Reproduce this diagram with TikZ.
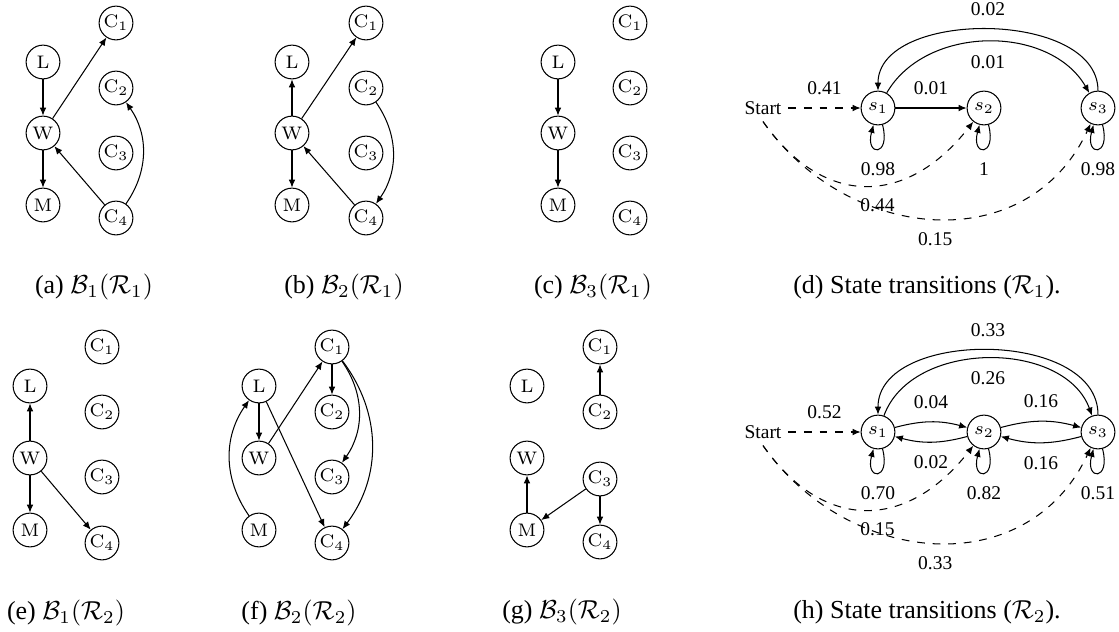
\documentclass[tikz,border=0pt]{standalone}
\usepackage[no-math]{fontspec}
\setmainfont{Liberation Serif}
\usetikzlibrary{arrows.meta}

\newcommand{\figfont}{\fontsize{7.5}{9}\selectfont}
\tikzset{
	var/.style={circle, draw, minimum size=13pt, inner sep=0pt, font=\figfont},
	lab/.style={font=\figfont, inner sep=5pt},
	start/.style={font=\figfont, inner sep=2.5pt}
}

\begin{document}
\begin{tikzpicture}[x=3.85pt, y=3.85pt, >={Latex[length=3.1pt,width=2.6pt]}]
			\useasboundingbox (0,0) rectangle (111.9,-63.1);

			% (a) first network of R1
			\node[var] (aL) at (4.3,-6.2) {$\mathrm{L}$};
			\node[var] (aW) at (4.3,-13.3) {$\mathrm{W}$};
			\node[var] (aM) at (4.3,-20.5) {$\mathrm{M}$};
			\node[var] (aC1) at (11.6,-2.3) {$\mathrm{C}_1$};
			\node[var] (aC2) at (11.6,-8.8) {$\mathrm{C}_2$};
			\node[var] (aC3) at (11.6,-15.3) {$\mathrm{C}_3$};
			\node[var] (aC4) at (11.6,-21.8) {$\mathrm{C}_4$};
			\draw[->] (aL) -- (aW);
			\draw[->] (aW) -- (aM);
			\draw[->] (aW) -- (aC1);
			\draw[->] (aC4) -- (aW);
			\draw[->] (aC4) to[bend right=35] (aC2);
			\node (capA) at (9.4,-28.7) {(a) $\mathcal{B}_1(\mathcal{R}_1)$};

			% (b) second network of R1
			\node[var] (bL) at (29.2,-6.2) {$\mathrm{L}$};
			\node[var] (bW) at (29.2,-13.3) {$\mathrm{W}$};
			\node[var] (bM) at (29.2,-20.5) {$\mathrm{M}$};
			\node[var] (bC1) at (36.6,-2.3) {$\mathrm{C}_1$};
			\node[var] (bC2) at (36.6,-8.8) {$\mathrm{C}_2$};
			\node[var] (bC3) at (36.6,-15.3) {$\mathrm{C}_3$};
			\node[var] (bC4) at (36.6,-21.8) {$\mathrm{C}_4$};
			\draw[->] (bW) -- (bL);
			\draw[->] (bW) -- (bM);
			\draw[->] (bW) -- (bC1);
			\draw[->] (bC4) -- (bW);
			\draw[->] (bC2) to[bend left=35] (bC4);
			\node (capB) at (34.4,-28.7) {(b) $\mathcal{B}_2(\mathcal{R}_1)$};

			% (c) third network of R1
			\node[var] (cL) at (55.8,-6.2) {$\mathrm{L}$};
			\node[var] (cW) at (55.8,-13.3) {$\mathrm{W}$};
			\node[var] (cM) at (55.8,-20.5) {$\mathrm{M}$};
			\node[var] (cC1) at (63.0,-2.3) {$\mathrm{C}_1$};
			\node[var] (cC2) at (63.0,-8.8) {$\mathrm{C}_2$};
			\node[var] (cC3) at (63.0,-15.3) {$\mathrm{C}_3$};
			\node[var] (cC4) at (63.0,-21.8) {$\mathrm{C}_4$};
			\draw[->] (cL) -- (cW);
			\draw[->] (cW) -- (cM);
			\node (capC) at (59.3,-28.7) {(c) $\mathcal{B}_3(\mathcal{R}_1)$};

			% (d) state transitions of R1
			\node[start] (dS) at (76.3,-10.8) {Start};
			\node[var] (d1) at (87.8,-10.8) {$s_1$};
			\node[var] (d2) at (98.4,-10.8) {$s_2$};
			\node[var] (d3) at (109.8,-10.8) {$s_3$};
			\draw[->, dashed] (dS) -- node[lab, above] {0.41} (d1);
			\draw[->] (d1) -- node[lab, above] {0.01} (d2);
			\draw[->] (d3) to[out=90, in=90, looseness=0.95] node[lab, above] {0.02} (d1);
			\draw[->] (d1) to[out=60, in=120] node[lab, below] {0.01} (d3);
			\draw[->] (d1) to[loop below, min distance=4.5mm] node[lab, below] {0.98} (d1);
			\draw[->] (d2) to[loop below, min distance=4.5mm] node[lab, below] {1} (d2);
			\draw[->] (d3) to[loop below, min distance=4.5mm] node[lab, below] {0.98} (d3);
			\draw[->, dashed] (dS.south) to[out=-55, in=-128, looseness=1.3] node[lab, below, pos=0.55] {0.44} (d2);
			\draw[->, dashed] (dS.south) to[out=-55, in=-115, looseness=1.16] node[lab, below] {0.15} (d3);
			\node (capD) at (92.7,-28.7) {(d) State transitions ($\mathcal{R}_1$).};

			% (e) first network of R2
			\node[var] (eL) at (3.0,-38.6) {$\mathrm{L}$};
			\node[var] (eW) at (3.0,-45.8) {$\mathrm{W}$};
			\node[var] (eM) at (3.0,-53.0) {$\mathrm{M}$};
			\node[var] (eC1) at (10.2,-34.7) {$\mathrm{C}_1$};
			\node[var] (eC2) at (10.2,-41.2) {$\mathrm{C}_2$};
			\node[var] (eC3) at (10.2,-47.7) {$\mathrm{C}_3$};
			\node[var] (eC4) at (10.2,-54.3) {$\mathrm{C}_4$};
			\draw[->] (eW) -- (eL);
			\draw[->] (eW) -- (eM);
			\draw[->] (eW) -- (eC4);
			\node (capE) at (6.6,-61.3) {(e) $\mathcal{B}_1(\mathcal{R}_2)$};

			% (f) second network of R2
			\node[var] (fL) at (25.9,-38.6) {$\mathrm{L}$};
			\node[var] (fW) at (25.9,-45.8) {$\mathrm{W}$};
			\node[var] (fM) at (25.9,-53.0) {$\mathrm{M}$};
			\node[var] (fC1) at (33.2,-34.7) {$\mathrm{C}_1$};
			\node[var] (fC2) at (33.2,-41.2) {$\mathrm{C}_2$};
			\node[var] (fC3) at (33.2,-47.7) {$\mathrm{C}_3$};
			\node[var] (fC4) at (33.2,-54.3) {$\mathrm{C}_4$};
			\draw[->] (fL) -- (fW);
			\draw[->] (fW) -- (fC1);
			\draw[->] (fL) -- (fC4);
			\draw[->] (fC1) -- (fC2);
			\draw[->] (fC1) to[bend left=35] (fC3);
			\draw[->] (fC1) to[bend left=37] (fC4);
			\draw[->] (fM) to[bend left=35] (fL);
			\node (capF) at (29.9,-61.3) {(f) $\mathcal{B}_2(\mathcal{R}_2)$};

			% (g) third network of R2
			\node[var] (gL) at (52.7,-38.6) {$\mathrm{L}$};
			\node[var] (gW) at (52.7,-45.8) {$\mathrm{W}$};
			\node[var] (gM) at (52.7,-53.0) {$\mathrm{M}$};
			\node[var] (gC1) at (60.0,-34.7) {$\mathrm{C}_1$};
			\node[var] (gC2) at (60.0,-41.2) {$\mathrm{C}_2$};
			\node[var] (gC3) at (60.0,-47.9) {$\mathrm{C}_3$};
			\node[var] (gC4) at (60.0,-54.2) {$\mathrm{C}_4$};
			\draw[->] (gM) -- (gW);
			\draw[->] (gC2) -- (gC1);
			\draw[->] (gC3) -- (gM);
			\draw[->] (gC3) -- (gC4);
			\node (capG) at (56.2,-61.2) {(g) $\mathcal{B}_3(\mathcal{R}_2)$};

			% (h) state transitions of R2
			\node[start] (hS) at (76.3,-43.2) {Start};
			\node[var] (h1) at (87.8,-43.2) {$s_1$};
			\node[var] (h2) at (98.4,-43.2) {$s_2$};
			\node[var] (h3) at (109.8,-43.2) {$s_3$};
			\draw[->, dashed] (hS) -- node[lab, above] {0.52} (h1);
			\draw[->] (h1) to[bend left=15] node[lab, above] {0.04} (h2);
			\draw[->] (h2) to[bend left=15] node[lab, below] {0.02} (h1);
			\draw[->] (h2) to[bend left=15] node[lab, above] {0.16} (h3);
			\draw[->] (h3) to[bend left=15] node[lab, below] {0.16} (h2);
			\draw[->] (h3) to[out=90, in=90] node[lab, above] {0.33} (h1);
			\draw[->] (h1) to[out=70, in=110] node[lab, below] {0.26} (h3);
			\draw[->] (h1) to[loop below, min distance=4.5mm] node[lab, below] {0.70} (h1);
			\draw[->] (h2) to[loop below, min distance=4.5mm] node[lab, below] {0.82} (h2);
			\draw[->] (h3) to[loop below, min distance=4.5mm] node[lab, below] {0.51} (h3);
			\draw[->, dashed] (hS.south) to[out=-55, in=-128, looseness=1.3] node[lab, below, pos=0.55] {0.15} (h2);
			\draw[->, dashed] (hS.south) to[out=-55, in=-115, looseness=1.16] node[lab, below] {0.33} (h3);
			\node (capH) at (92.7,-61.2) {(h) State transitions ($\mathcal{R}_2$).};

\end{tikzpicture}
\end{document}
